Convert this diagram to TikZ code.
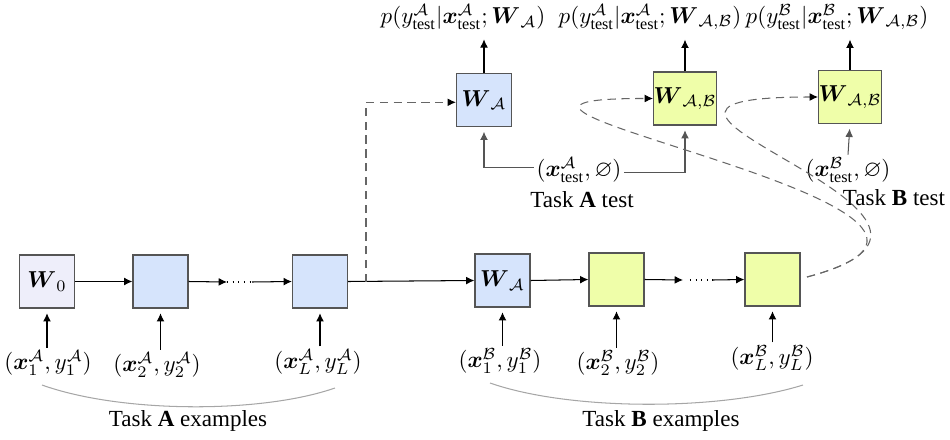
\documentclass[tikz,border=0pt]{standalone}
\usepackage{amsmath,amssymb,amsbsy}
\usepackage{fontspec}
\setmainfont{Liberation Serif}
\usetikzlibrary{arrows.meta}
\newcommand{\Bx}{\boldsymbol{x}}
\newcommand{\BW}{\boldsymbol{W}}
\newcommand{\CA}{\mathcal{A}}
\newcommand{\CB}{\mathcal{B}}
\definecolor{lav}{HTML}{EEEEFA}
\definecolor{bluefill}{HTML}{D6E4FC}
\definecolor{greenfill}{HTML}{EFFEA9}
\definecolor{edge}{HTML}{555555}
\definecolor{dgray}{HTML}{666666}
\tikzset{
  wbox/.style={draw=edge, line width=0.5pt, minimum width=23.9pt, minimum height=23pt, inner sep=0pt, font=\normalsize},
  lbl/.style={inner sep=1pt, font=\normalsize},
  arr/.style={-{Latex[length=3.6pt,width=3.4pt]}, line width=0.45pt},
  darr/.style={-{Latex[length=3.6pt,width=3.4pt,color=black]}, draw=dgray, line width=0.45pt, dash pattern=on 3.6pt off 2.4pt},
  garc/.style={draw=gray!70, line width=0.45pt},
}
\begin{document}
\begin{tikzpicture}[x=0.434pt,y=-0.434pt]
\useasboundingbox (0,0) rectangle (950,440);
% bottom row boxes
\node[wbox, fill=lav] (w0) at (47,281.5) {$\BW_0$};
\node[wbox, fill=bluefill] (a2) at (160.5,281.5) {};
\node[wbox, fill=bluefill] (aL) at (320,281.5) {};
\node[wbox, fill=bluefill] (wab) at (502.5,280.5) {$\BW_{\CA}$};
\node[wbox, fill=greenfill] (g2) at (616.5,279.5) {};
\node[wbox, fill=greenfill] (gL) at (772.5,279.5) {};
% top row boxes
\node[wbox, fill=bluefill] (wat) at (484,100) {$\BW_{\CA}$};
\node[wbox, fill=greenfill] (wab1) at (685,98.5) {$\BW_{\CA,\CB}$};
\node[wbox, fill=greenfill] (wab2) at (850,97) {$\BW_{\CA,\CB}$};
% top labels
\node[lbl] (t1) at (463,17) {$p(y^{\CA}_{\text{test}}|\Bx^{\CA}_{\text{test}};\BW_{\CA})$};
\node[lbl] (t2) at (650,17) {$p(y^{\CA}_{\text{test}}|\Bx^{\CA}_{\text{test}};\BW_{\CA,\CB})$};
\node[lbl] (t3) at (837,17) {$p(y^{\CB}_{\text{test}}|\Bx^{\CB}_{\text{test}};\BW_{\CA,\CB})$};
\draw[arr] (wat.north) -- ([yshift=-3pt]wat.north |- t1.south);
\draw[arr] (wab1.north) -- ([yshift=-3pt]wab1.north |- t2.south);
\draw[arr] (wab2.north) -- ([yshift=-3pt]wab2.north |- t3.south);
% test inputs
\node[lbl] (xa) at (579,170) {$(\Bx^{\CA}_{\text{test}},\varnothing)$};
\node[lbl] (ta) at (582,200) {Task \textbf{A} test};
\node[lbl] (xb) at (848,170) {$(\Bx^{\CB}_{\text{test}},\varnothing)$};
\node[lbl] (tb) at (894,198) {Task \textbf{B} test};
\draw[arr, draw=edge, shorten >=2pt] ([yshift=1pt]xa.west) -| (wat.south);
\draw[arr, draw=edge, shorten >=2pt] ([yshift=-1pt]xa.east) -| (wab1.south);
\draw[arr, draw=edge, shorten >=2pt] (xb.north) -- (wab2.south);
% bottom labels
\node[lbl] (la1) at (48,363) {$(\Bx^{\CA}_1,y^{\CA}_1)$};
\node[lbl] (la2) at (157,365) {$(\Bx^{\CA}_2,y^{\CA}_2)$};
\node[lbl] (laL) at (318,362) {$(\Bx^{\CA}_L,y^{\CA}_L)$};
\node[lbl] (lb1) at (500,361) {$(\Bx^{\CB}_1,y^{\CB}_1)$};
\node[lbl] (lb2) at (618,363) {$(\Bx^{\CB}_2,y^{\CB}_2)$};
\node[lbl] (lbL) at (772,358) {$(\Bx^{\CB}_L,y^{\CB}_L)$};
\draw[arr, shorten >=2pt] (w0.south |- la1.north) -- (w0.south);
\draw[arr, shorten >=2pt] (a2.south |- la2.north) -- (a2.south);
\draw[arr, shorten >=2pt] (aL.south |- laL.north) -- (aL.south);
\draw[arr, shorten >=2pt] (wab.south |- lb1.north) -- (wab.south);
\draw[arr, shorten >=2pt] (g2.south |- lb2.north) -- (g2.south);
\draw[arr, shorten >=2pt] (gL.south |- lbL.north) -- (gL.south);
% task example arcs
\coordinate (ea1) at (42,385);
\coordinate (ea2) at (335,388);
\coordinate (eb1) at (490,383);
\coordinate (eb2) at (803,385);
\draw[garc] (ea1) .. controls (120,413) and (260,414) .. (ea2);
\draw[garc] (eb1) .. controls (570,411) and (720,411) .. (eb2);
\node[lbl] (tae) at (188,421) {Task \textbf{A} examples};
\node[lbl] (tbe) at (661,421) {Task \textbf{B} examples};
% chain arrows
\coordinate (c1) at (227,282);
\coordinate (c2) at (252,282);
\coordinate (c3) at (683,280);
\coordinate (c4) at (713,280);
\draw[arr] (w0.east) -- (a2.west);
\draw[arr] (a2.east) -- (c1);
\draw[dotted, line width=0.45pt] (c1) -- (c2);
\draw[arr] (c2) -- (aL.west);
\draw[arr] (aL.east) -- (wab.west);
\draw[arr] (wab.east) -- (g2.west);
\draw[arr] (g2.east) -- (c3);
\draw[dotted, line width=0.45pt] ([xshift=3pt]c3) -- (c4);
\draw[arr] (c4) -- (gL.west);
% dashed transfers
\coordinate (d1) at (366,282);
\draw[darr] (d1) |- ([yshift=-1pt]wat.west);
\coordinate (gs) at (807,277);
\draw[darr] (gs) .. controls (1070,207.5) and (368,98) .. (wab1.west);
\draw[darr] (gs) .. controls (1041.5,215.3) and (533,97) .. (wab2.west);
\end{tikzpicture}
\end{document}
